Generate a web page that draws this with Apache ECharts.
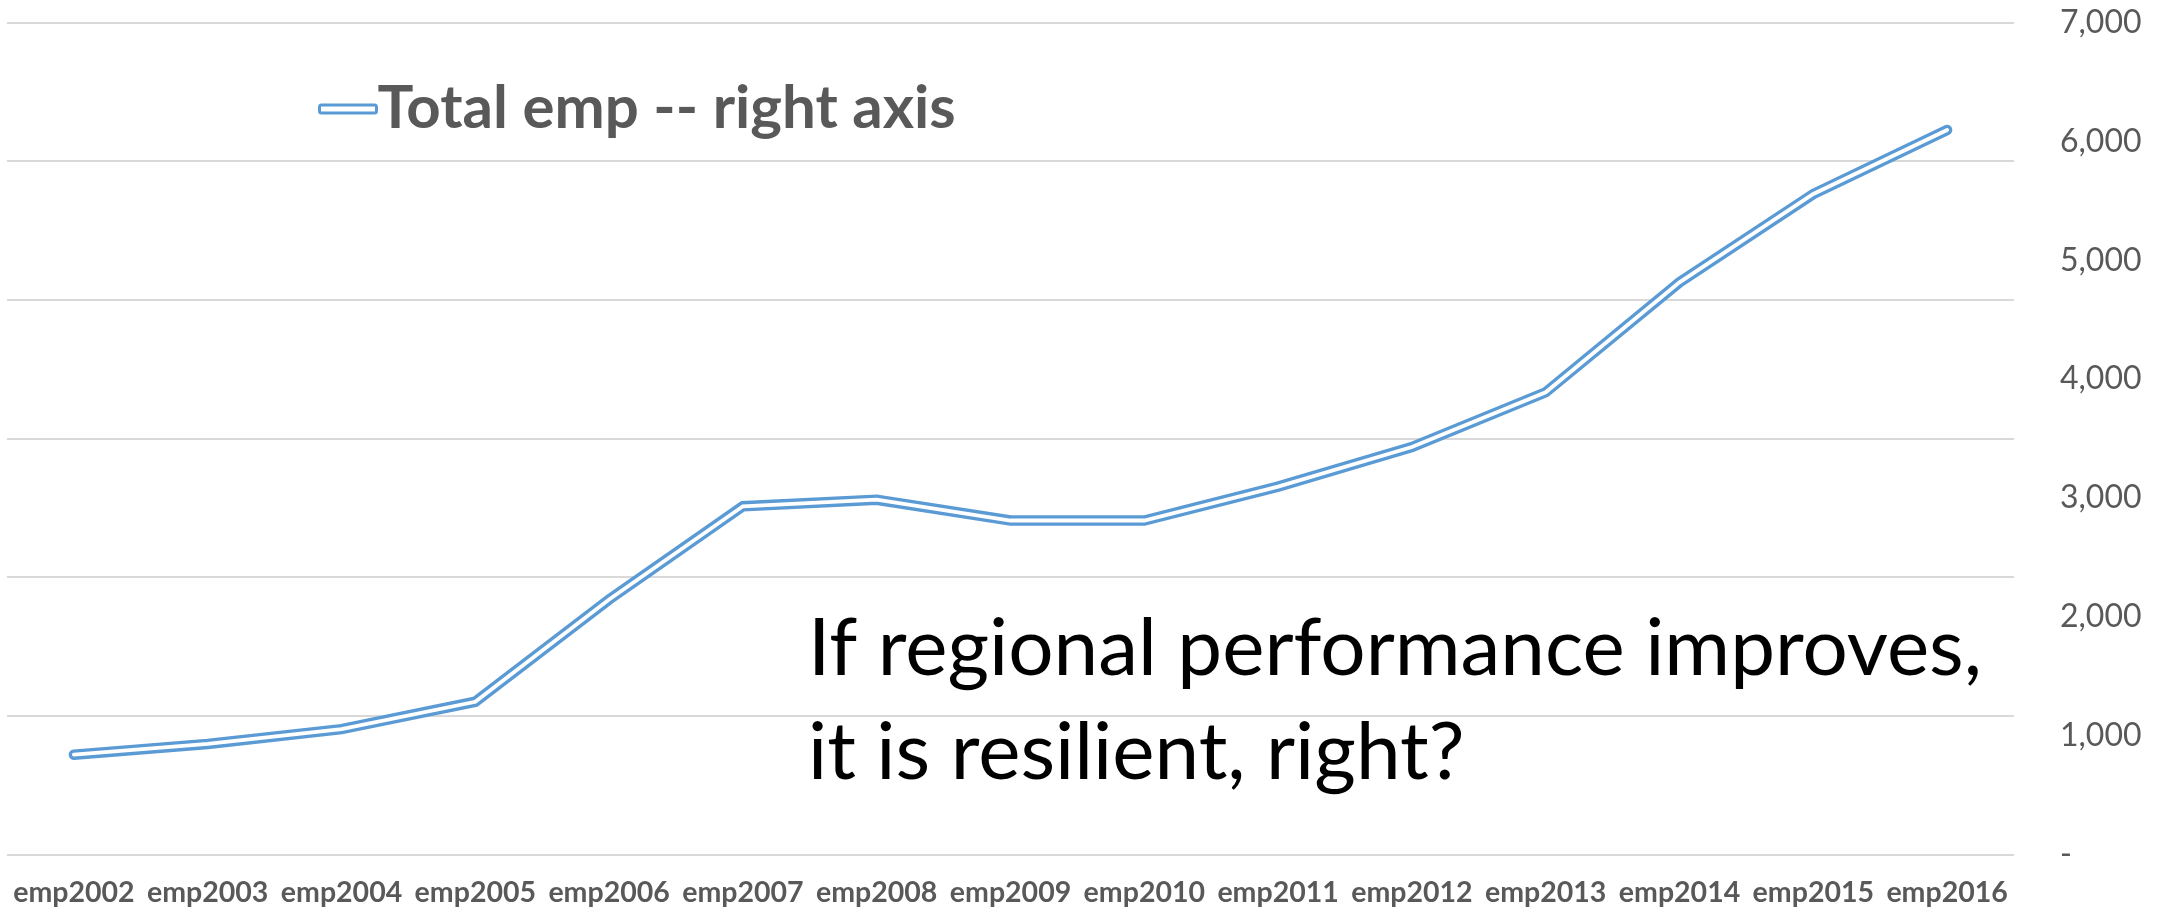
<!DOCTYPE html>
<html>
<head>
<meta charset="utf-8">
<script src="https://cdn.jsdelivr.net/npm/echarts@6/dist/echarts.min.js"></script>
<style>
  html, body { margin: 0; padding: 0; background: #ffffff; }
  #chart { width: 2169px; height: 912px; }
</style>
</head>
<body>
<div id="chart"></div>
<script>
// Categories along the bottom axis
const categories = ['emp2002', 'emp2003', 'emp2004', 'emp2005', 'emp2006', 'emp2007', 'emp2008',
  'emp2009', 'emp2010', 'emp2011', 'emp2012', 'emp2013', 'emp2014', 'emp2015', 'emp2016'];

// Total employment, plotted against the right axis
const totalEmp = [840, 930, 1055, 1285, 2145, 2930, 2985, 2810, 2810, 3095, 3428, 3889, 4814, 5557, 6096];

const seriesName = 'Total emp -- right axis';
const noteLines = ['If regional performance improves,', 'it is resilient, right?'];

const BLUE = '#5B9BD5';
const GREY = '#595959';

const chart = echarts.init(document.getElementById('chart'), null, { renderer: 'canvas' });

chart.setOption({
  backgroundColor: '#ffffff',
  animation: false,
  grid: { left: 7, right: 155, top: 22.5, bottom: 57.5, containLabel: false },
  legend: {
    data: [seriesName],
    left: 313,
    top: 74,
    icon: 'roundRect',
    itemWidth: 57,
    itemHeight: 8,
    itemStyle: { color: '#ffffff', borderColor: BLUE, borderWidth: 3 },
    textStyle: { fontFamily: 'Lato', fontWeight: 'bold', fontSize: 60, color: GREY, padding: [0, 0, 0, -4] }
  },
  xAxis: {
    type: 'category',
    data: categories,
    boundaryGap: true,
    axisLine: { show: false },
    axisTick: { show: false },
    axisLabel: {
      interval: 0,
      margin: 24,
      fontFamily: 'Lato',
      fontWeight: 'bold',
      fontSize: 28.5,
      color: GREY
    }
  },
  yAxis: [
    {
      // left axis: only its gridlines are drawn
      type: 'value',
      min: 0, max: 6, interval: 1,
      axisLine: { show: false },
      axisTick: { show: false },
      axisLabel: { show: false },
      splitLine: { show: true, lineStyle: { color: '#D9D9D9', width: 2 } }
    },
    {
      type: 'value',
      position: 'right',
      min: 0, max: 7000, interval: 1000,
      axisLine: { show: false },
      axisTick: { show: false },
      splitLine: { show: false },
      axisLabel: {
        margin: 46,
        align: 'left',
        fontFamily: 'Lato',
        fontSize: 32,
        color: GREY,
        formatter: v => v === 0 ? '-' : v.toLocaleString('en-US')
      }
    }
  ],
  series: [
    {
      // outer stroke of the double line
      name: seriesName,
      type: 'line',
      yAxisIndex: 1,
      data: totalEmp,
      symbol: 'none',
      lineStyle: { color: BLUE, width: 10.5, cap: 'round', join: 'miter' },
      itemStyle: { color: BLUE },
      z: 3
    },
    {
      // white core that splits the stroke into two thin lines
      name: 'inner',
      type: 'line',
      yAxisIndex: 1,
      data: totalEmp,
      symbol: 'none',
      lineStyle: { color: '#ffffff', width: 3.8, cap: 'round', join: 'miter' },
      z: 4
    }
  ],
  graphic: noteLines.map((t, i) => ({
    type: 'text',
    x: 808,
    y: 609 + i * 104,
    z: 10,
    style: {
      text: t,
      fill: '#000000',
      font: '80px Lato',
      textAlign: 'left'
    }
  }))
});
</script>
</body>
</html>
